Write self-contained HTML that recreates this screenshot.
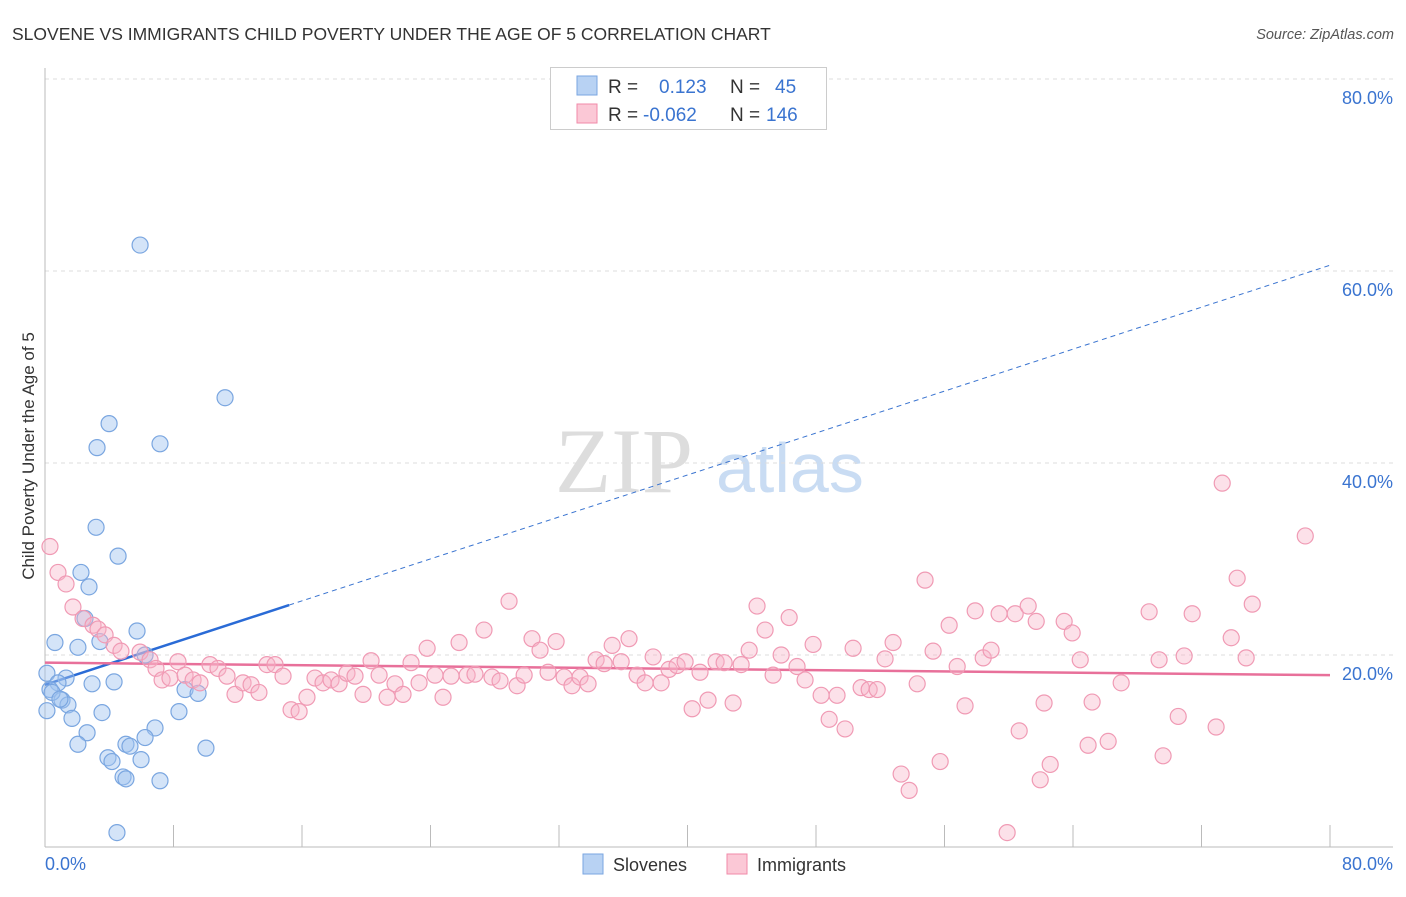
<!DOCTYPE html>
<html><head><meta charset="utf-8"><style>
body{margin:0;background:#fff;font-family:"Liberation Sans",sans-serif;}
svg text{font-family:"Liberation Sans",sans-serif;}
</style></head><body>
<svg id="chart" width="1406" height="892">
<text x="12" y="40" font-size="17.5" fill="#333">SLOVENE VS IMMIGRANTS CHILD POVERTY UNDER THE AGE OF 5 CORRELATION CHART</text>
<text x="1394" y="39" font-size="14.5" fill="#555" font-style="italic" text-anchor="end">Source: ZipAtlas.com</text>
<text x="34" y="456" font-size="17" fill="#333" text-anchor="middle" transform="rotate(-90 34 456)">Child Poverty Under the Age of 5</text>
<g>
<text x="555" y="492" font-size="92" fill="#ddd" font-family="Liberation Serif" style="font-family:'Liberation Serif',serif">ZIP</text>
<text x="716" y="492" font-size="70" fill="#c9dcf3">atlas</text>
</g>
<g id="grid"></g>
<g id="axes"></g>
<g id="trends"></g>
<g id="pts"></g>
<g>
<rect x="550.5" y="67.5" width="276" height="62" fill="#fff" stroke="#ccc"/>
<rect x="577" y="76" width="20" height="19" fill="#b8d2f3" stroke="#7aa6e0"/>
<rect x="577" y="104" width="20" height="19" fill="#fbc8d6" stroke="#f08aa8"/>
<text x="608" y="93" font-size="19" fill="#333">R =</text>
<text x="659" y="93" font-size="19" fill="#3a74d0">0.123</text>
<text x="730" y="93" font-size="19" fill="#333">N =</text>
<text x="775" y="93" font-size="19" fill="#3a74d0">45</text>
<text x="608" y="121" font-size="19" fill="#333">R =</text>
<text x="643" y="121" font-size="19" fill="#3a74d0">-0.062</text>
<text x="730" y="121" font-size="19" fill="#333">N =</text>
<text x="766" y="121" font-size="19" fill="#3a74d0">146</text>
</g>
<g>
<rect x="583" y="854" width="20" height="20" fill="#b8d2f3" stroke="#7aa6e0"/>
<text x="613" y="871" font-size="18" fill="#333">Slovenes</text>
<rect x="727" y="854" width="20" height="20" fill="#fbc8d6" stroke="#f08aa8"/>
<text x="757" y="871" font-size="18" fill="#333">Immigrants</text>
</g>
</svg>
<script>
const yTicks=[20,40,60,80];
const yTickLabels=["20.0%","40.0%","60.0%","80.0%"];
const xTickVals=[8,16,24,32,40,48,56,64,72,80];
const blueX=[5.92,11.21,3.99,7.16,3.24,3.18,4.55,2.24,2.74,2.49,5.73,0.62,3.42,2.05,6.23,0.12,1.31,0.81,0.31,4.30,2.93,8.72,9.53,1.06,1.43,0.12,1.68,3.55,8.34,2.62,6.85,2.05,5.04,5.29,6.23,10.02,3.92,4.17,5.98,4.86,5.04,7.16,4.48,0.44,0.93];
const blueY=[62.7,46.8,44.1,42.0,41.6,33.3,30.3,28.6,27.1,23.8,22.5,21.3,21.4,20.8,20.0,18.1,17.6,17.1,16.4,17.2,17.0,16.4,16.0,15.3,14.8,14.2,13.4,14.0,14.1,11.9,12.4,10.7,10.7,10.5,11.4,10.3,9.3,8.9,9.1,7.3,7.1,6.9,1.5,16.1,15.4];
const pinkX=[0.31,0.81,1.31,1.74,2.37,2.99,3.30,3.74,4.30,4.73,5.92,6.54,6.91,7.29,7.78,8.28,8.72,9.22,9.65,10.27,10.77,11.33,11.83,12.33,12.83,13.32,13.82,14.32,14.82,15.32,15.82,16.31,16.81,17.31,17.81,18.31,18.80,19.30,19.80,20.30,20.80,21.30,21.79,22.29,22.79,23.29,23.79,24.28,24.78,25.28,25.78,26.28,26.77,27.33,27.83,28.33,28.89,29.39,29.83,30.32,30.82,31.32,31.82,32.32,32.81,33.31,33.81,34.31,34.81,35.31,35.87,36.36,36.86,37.36,37.86,38.36,38.85,39.35,39.85,40.29,40.78,41.28,41.78,42.28,42.84,43.34,43.84,44.33,44.83,45.33,45.83,46.33,46.82,47.32,47.82,48.32,48.82,49.31,49.81,50.31,50.81,51.31,51.81,52.30,52.80,53.30,53.80,54.30,54.79,55.29,55.73,56.29,56.79,57.28,57.91,58.41,58.90,59.40,59.90,60.40,60.65,61.21,61.71,61.96,62.20,62.58,63.45,63.95,64.45,64.94,65.19,66.19,67.00,68.74,69.36,69.61,70.55,70.92,71.42,72.91,73.29,73.85,74.22,74.78,75.16,78.46];
const pinkY=[31.3,28.6,27.4,25.0,23.8,23.1,22.7,22.1,21.0,20.4,20.3,19.5,18.6,17.4,17.6,19.3,17.9,17.4,17.1,19.0,18.6,17.8,15.9,17.1,16.9,16.1,19.0,19.0,17.8,14.3,14.1,15.6,17.6,17.1,17.4,17.0,18.1,17.8,15.9,19.4,17.9,15.6,17.0,15.9,19.2,17.1,20.7,17.9,15.6,17.8,21.3,17.9,18.0,22.6,17.7,17.3,25.6,16.8,17.9,21.7,20.5,18.2,21.4,17.7,16.8,17.7,17.0,19.5,19.1,21.0,19.3,21.7,17.9,17.1,19.8,17.1,18.5,18.9,19.3,14.4,18.2,15.3,19.3,19.2,15.0,19.0,20.5,25.1,22.6,17.9,20.0,23.9,18.8,17.4,21.1,15.8,13.3,15.8,12.3,20.7,16.6,16.4,16.4,19.6,21.3,7.6,5.9,17.0,27.8,20.4,8.9,23.1,18.8,14.7,24.6,19.7,20.5,24.3,1.5,24.3,12.1,25.1,23.5,7.0,15.0,8.6,23.5,22.3,19.5,10.6,15.1,11.0,17.1,24.5,19.5,9.5,13.6,19.9,24.3,12.5,37.9,21.8,28.0,19.7,25.3,32.4];
const blueTrend=[16.9,60.6];
const blueSolidEnd=15.2;
const pinkTrend=[19.2,17.9];

const NS="http://www.w3.org/2000/svg";
const X0=45,X1=1330,Y0=847,PY=9.6;
function sx(v){return X0+v*(X1-X0)/80;}
function sy(v){return Y0-v*PY;}
function mk(tag,attrs,parent){const e=document.createElementNS(NS,tag);for(const k in attrs)e.setAttribute(k,attrs[k]);document.getElementById(parent).appendChild(e);return e;}

yTicks.forEach((t,i)=>{
  const l=mk('line',{x1:X0,x2:1393,y1:sy(t),y2:sy(t),stroke:'#ddd','stroke-dasharray':'4 4'},'grid');
  
  
  const tx=mk('text',{x:1393,y:sy(t)+25,'font-size':18,fill:'#3a74d0','text-anchor':'end'},'grid');
  tx.textContent=yTickLabels[i];
  
  
});
let a=mk('line',{x1:X0,x2:X0,y1:68,y2:Y0,stroke:'#bbb'},'axes');


a=mk('line',{x1:X0,x2:1393,y1:Y0,y2:Y0,stroke:'#bbb'},'axes');


xTickVals.forEach(v=>{
  const t=mk('line',{x1:sx(v),x2:sx(v),y1:825,y2:Y0,stroke:'#bbb'},'axes');
  
  
});
let xl=mk('text',{x:45,y:870,'font-size':18,fill:'#3a74d0'},'axes');xl.textContent='0.0%';


xl=mk('text',{x:1393,y:870,'font-size':18,fill:'#3a74d0','text-anchor':'end'},'axes');xl.textContent='80.0%';



blueX.forEach((x,i)=>{
  const c=mk('circle',{cx:sx(x),cy:sy(blueY[i]),r:8,fill:'rgba(160,195,240,0.45)',stroke:'#7aa6e0','stroke-width':1.2},'pts');
  
  
});
pinkX.forEach((x,i)=>{
  const c=mk('circle',{cx:sx(x),cy:sy(pinkY[i]),r:8,fill:'rgba(248,180,200,0.4)',stroke:'#f09ab4','stroke-width':1.2},'pts');
  
  
});
const bAt=x=>blueTrend[0]+(blueTrend[1]-blueTrend[0])*x/80;
let tl=mk('line',{x1:sx(blueSolidEnd),y1:sy(bAt(blueSolidEnd)),x2:sx(80),y2:sy(bAt(80)),stroke:'#3a74d0','stroke-width':1,'stroke-dasharray':'5 4'},'trends');


tl=mk('line',{x1:sx(0),y1:sy(bAt(0)),x2:sx(blueSolidEnd),y2:sy(bAt(blueSolidEnd)),stroke:'#2a6bd6','stroke-width':2.5},'trends');


tl=mk('line',{x1:sx(0),y1:sy(pinkTrend[0]),x2:sx(80),y2:sy(pinkTrend[1]),stroke:'#e8709a','stroke-width':2.5},'trends');


</script>
</body></html>
